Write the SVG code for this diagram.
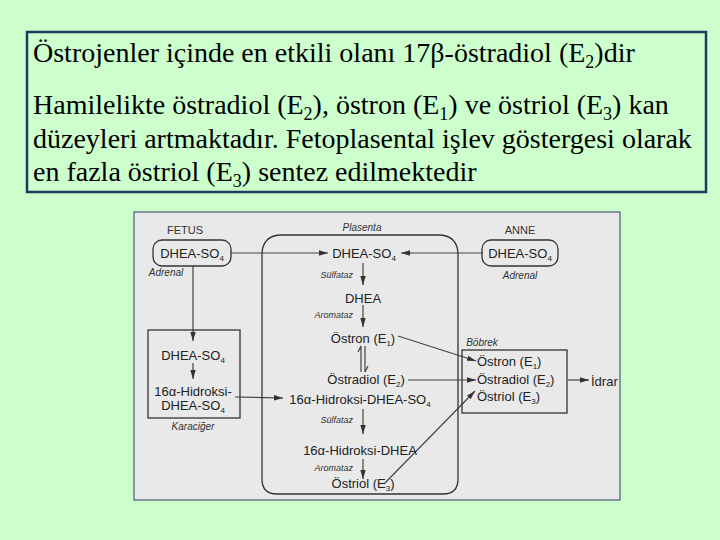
<svg xmlns="http://www.w3.org/2000/svg" width="720" height="540" viewBox="0 0 720 540">
<style>
.hd{font-family:"Liberation Serif","Times New Roman",serif;font-size:28px;fill:#000}
.t{font-family:"Liberation Sans",Arial,sans-serif;font-size:13px;fill:#222}
.sm{font-family:"Liberation Sans",Arial,sans-serif;font-size:9px;font-style:italic;fill:#333}
.lb{font-family:"Liberation Sans",Arial,sans-serif;font-size:10px;font-style:italic;fill:#333}
.cap{font-family:"Liberation Sans",Arial,sans-serif;font-size:11px;fill:#333}
.ln{stroke:#444;stroke-width:1.2;fill:none}
.bx{stroke:#333;stroke-width:1.3;fill:none}
</style>
<defs>
<marker id="ah" viewBox="0 0 10 6" refX="10" refY="3" markerWidth="9" markerHeight="5.4" markerUnits="userSpaceOnUse" orient="auto">
<path d="M0,0 L10,3 L0,6 Z" fill="#333"/>
</marker>
</defs>
<rect width="720" height="540" fill="#ccffcc"/>
<g id="heading">
<rect x="27" y="32" width="679" height="160" fill="none" stroke="#1f3a5c" stroke-width="2.5"/>
<text class="hd" x="33" y="62">Östrojenler içinde en etkili olanı 17β-östradiol (E<tspan font-size="18" dy="6">2</tspan><tspan dy="-6">)dir</tspan></text>
<text class="hd" x="33" y="114">Hamilelikte östradiol (E<tspan font-size="18" dy="6">2</tspan><tspan dy="-6">), östron (E</tspan><tspan font-size="18" dy="6">1</tspan><tspan dy="-6">) ve östriol (E</tspan><tspan font-size="18" dy="6">3</tspan><tspan dy="-6">) kan</tspan></text>
<text class="hd" x="33" y="148">düzeyleri artmaktadır. Fetoplasental işlev göstergesi olarak</text>
<text class="hd" x="33" y="181">en fazla östriol (E<tspan font-size="18" dy="6">3</tspan><tspan dy="-6">) sentez edilmektedir</tspan></text>
</g>
<rect x="134" y="212" width="486" height="288" fill="#e9e9ea" stroke="#2a3f66" stroke-width="1"/>
<g id="connectors">
<line class="ln" x1="231" y1="253" x2="328" y2="253" marker-end="url(#ah)"/>
<line class="ln" x1="483" y1="253" x2="401" y2="253" marker-end="url(#ah)"/>
<line class="ln" x1="193" y1="266" x2="193" y2="341" marker-end="url(#ah)"/>
<line class="ln" x1="193" y1="363" x2="193" y2="379" marker-end="url(#ah)"/>
<line class="ln" x1="235" y1="397" x2="283" y2="398" marker-end="url(#ah)"/>
<line class="ln" x1="363" y1="263" x2="363" y2="285" marker-end="url(#ah)"/>
<line class="ln" x1="363" y1="305" x2="363" y2="327" marker-end="url(#ah)"/>
<path class="ln" d="M361,372 L361,346 L358,352" stroke-width="1.6"/>
<path class="ln" d="M365,346 L365,372 L368,366" stroke-width="1.6"/>
<line class="ln" x1="363" y1="409" x2="363" y2="434" marker-end="url(#ah)"/>
<line class="ln" x1="363" y1="459" x2="363" y2="479" marker-end="url(#ah)"/>
<line class="ln" x1="398" y1="336" x2="476" y2="361" marker-end="url(#ah)"/>
<line class="ln" x1="408" y1="380" x2="476" y2="380" marker-end="url(#ah)"/>
<line class="ln" x1="384" y1="484" x2="475" y2="391" marker-end="url(#ah)"/>
<line class="ln" x1="568" y1="380" x2="589" y2="380" marker-end="url(#ah)"/>
</g>
<g id="fetus">
<text class="cap" x="185" y="234" text-anchor="middle">FETUS</text>
<rect class="bx" x="153" y="240" width="78" height="26" rx="9"/>
<text class="t" x="192" y="258" text-anchor="middle">DHEA-SO<tspan font-size="8" dy="3">4</tspan></text>
<text class="lb" x="166" y="276" text-anchor="middle">Adrenal</text>
</g>
<g id="karaciger">
<rect class="bx" x="148" y="330" width="92" height="88"/>
<text class="t" x="193" y="360" text-anchor="middle">DHEA-SO<tspan font-size="8" dy="3">4</tspan></text>
<text class="t" x="193" y="396" text-anchor="middle">16α-Hidroksi-</text>
<text class="t" x="193" y="410" text-anchor="middle">DHEA-SO<tspan font-size="8" dy="3">4</tspan></text>
<text class="lb" x="193" y="430" text-anchor="middle">Karaciğer</text>
</g>
<g id="plasenta">
<path class="bx" d="M282,235 L438,235 Q458,235 458,255 L458,479 Q458,494 443,494 L277,494 Q262,494 262,479 L262,255 Q262,235 282,235 Z"/>
<text class="lb" x="362" y="231" text-anchor="middle" font-size="11">Plasenta</text>
<text class="t" x="364" y="258" text-anchor="middle">DHEA-SO<tspan font-size="8" dy="3">4</tspan></text>
<text class="sm" x="353" y="278" text-anchor="end">Sülfataz</text>
<text class="t" x="363" y="303" text-anchor="middle">DHEA</text>
<text class="sm" x="353" y="318" text-anchor="end">Aromataz</text>
<text class="t" x="363" y="343" text-anchor="middle">Östron (E<tspan font-size="8" dy="3">1</tspan><tspan dy="-3">)</tspan></text>
<text class="t" x="366" y="384" text-anchor="middle">Östradiol (E<tspan font-size="8" dy="3">2</tspan><tspan dy="-3">)</tspan></text>
<text class="t" x="360" y="404" text-anchor="middle">16α-Hidroksi-DHEA-SO<tspan font-size="8" dy="3">4</tspan></text>
<text class="sm" x="353" y="423" text-anchor="end">Sülfataz</text>
<text class="t" x="360" y="455" text-anchor="middle">16α-Hidroksi-DHEA</text>
<text class="sm" x="353" y="471" text-anchor="end">Aromataz</text>
<text class="t" x="363" y="488" text-anchor="middle">Östriol (E<tspan font-size="8" dy="3">3</tspan><tspan dy="-3">)</tspan></text>
</g>
<g id="anne">
<text class="cap" x="520" y="234" text-anchor="middle">ANNE</text>
<rect class="bx" x="482" y="240" width="76" height="26" rx="9"/>
<text class="t" x="520" y="258" text-anchor="middle">DHEA-SO<tspan font-size="8" dy="3">4</tspan></text>
<text class="lb" x="520" y="279" text-anchor="middle">Adrenal</text>
</g>
<g id="bobrek">
<text class="lb" x="482" y="346" text-anchor="middle">Böbrek</text>
<rect class="bx" x="462" y="350" width="105" height="63"/>
<text class="t" x="477" y="366">Östron (E<tspan font-size="8" dy="3">1</tspan><tspan dy="-3">)</tspan></text>
<text class="t" x="477" y="384">Östradiol (E<tspan font-size="8" dy="3">2</tspan><tspan dy="-3">)</tspan></text>
<text class="t" x="477" y="401">Östriol (E<tspan font-size="8" dy="3">3</tspan><tspan dy="-3">)</tspan></text>
</g>
<g id="idrar">
<text class="t" x="591" y="386" font-size="14">İdrar</text>
</g>
</svg>
